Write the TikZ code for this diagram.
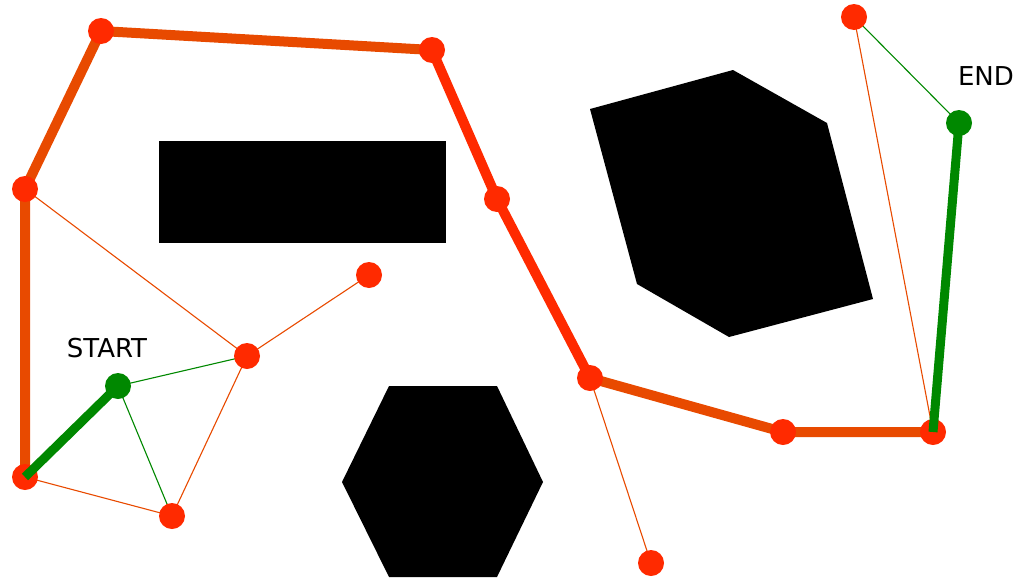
\documentclass[tikz,border=0pt]{standalone}
\usepackage{fontspec}
\setmainfont{DejaVu Sans}
\definecolor{nred}{RGB}{255,42,0}
\definecolor{lorange}{RGB}{232,74,0}
\definecolor{pgreen}{RGB}{0,136,0}
\pgfdeclarelayer{bg}
\pgfdeclarelayer{fg}
\pgfsetlayers{bg,main,fg}
\tikzset{
  vtx/.style={circle,fill=nred,minimum size=26pt,inner sep=0pt},
  gvtx/.style={circle,fill=pgreen,minimum size=26pt,inner sep=0pt},
  obst/.style={fill=black},
  thickor/.style={draw=lorange,line width=10pt},
  thickred/.style={draw=nred,line width=10pt},
  thickgr/.style={draw=pgreen,line width=9pt},
  thinor/.style={draw=lorange,line width=1.1pt},
  thingr/.style={draw=pgreen,line width=1.1pt},
  lbl/.style={font=\fontsize{26}{30}\selectfont,inner sep=0pt}
}
\begin{document}
\begin{tikzpicture}[x=1pt,y=-1pt]
\useasboundingbox (0,0) rectangle (1015,584);
% obstacles
\fill[obst] (159,141) rectangle (446,243);
\fill[obst] (389,386) -- (497,386) -- (543,482) -- (497,577) -- (389,577) -- (342,482) -- cycle;
\fill[obst] (590,109) -- (733,70) -- (827,123) -- (873,299) -- (729,337) -- (637,284) -- cycle;
% vertices
\node[vtx] (A) at (101,31) {};
\node[vtx] (B) at (432,50) {};
\node[vtx] (C) at (25,189) {};
\node[vtx] (D) at (497,199) {};
\node[vtx] (E) at (369,275) {};
\node[vtx] (F) at (247,356) {};
\node[vtx] (G) at (590,378) {};
\node[vtx] (H) at (783,432) {};
\node[vtx] (I) at (933,432) {};
\node[vtx] (J) at (25,477) {};
\node[vtx] (K) at (172,516) {};
\node[vtx] (L) at (651,563) {};
\node[vtx] (M) at (854,17) {};
\node[gvtx] (S) at (118,386) {};
\node[gvtx] (T) at (959,123) {};
% labels
\node[lbl] (startlbl) at (107,348) {START};
\node[lbl] (endlbl) at (986,76) {END};
% connectors
\begin{pgfonlayer}{bg}
\draw[thinor] (C.center) -- (F.center);
\draw[thinor] (F.center) -- (E.center);
\draw[thinor] (F.center) -- (K.center);
\draw[thinor] (J.center) -- (K.center);
\draw[thinor] (G.center) -- (L.center);
\draw[thinor] (M.center) -- (I.center);
\draw[thingr] (S.center) -- (F.center);
\draw[thingr] (S.center) -- (K.center);
\draw[thingr] (M.center) -- (T.center);
\draw[thickor] (J.center) -- (C.center) -- (A.center) -- (B.center);
\draw[thickred] (B.center) -- (D.center) -- (G.center);
\draw[thickor] (G.center) -- (H.center) -- (I.center);
\end{pgfonlayer}
\begin{pgfonlayer}{fg}
\draw[thickgr] (S.center) -- (J.center);
\draw[thickgr] (T.center) -- (I.center);
\end{pgfonlayer}
\end{tikzpicture}
\end{document}
